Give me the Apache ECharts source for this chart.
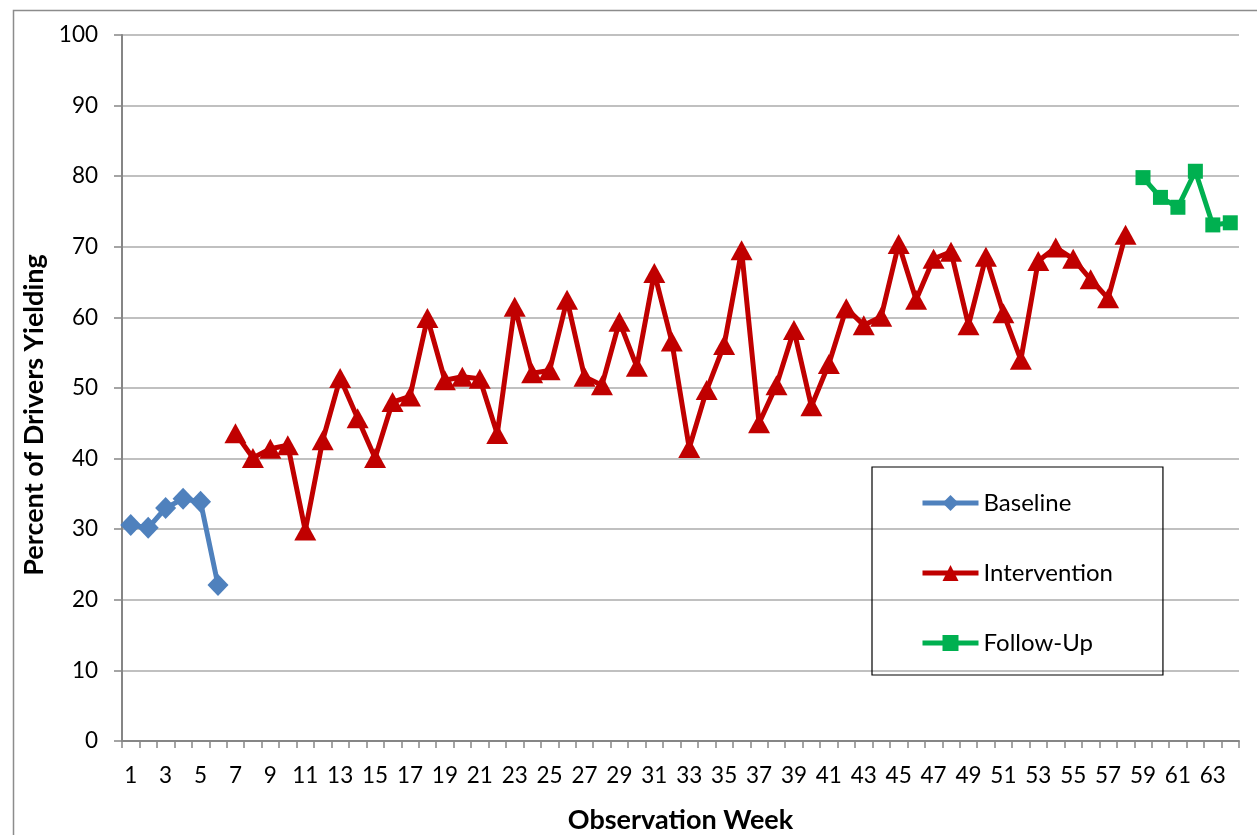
<!DOCTYPE html>
<html>
<head>
<meta charset="utf-8">
<title>Percent of Drivers Yielding</title>
<script src="https://cdn.jsdelivr.net/npm/echarts@6/dist/echarts.min.js"></script>
<style>
    html, body { margin: 0; padding: 0; background: #fff; }
    #main { width: 1257px; height: 835px; }
</style>
</head>
<body>
<div id="main"></div>
<script>
// weeks 1..64
var weeks = [];
for (var w = 1; w <= 64; w++) {
    weeks.push(String(w));
}

// Baseline: weeks 1-6
var baseline = [30.6, 30.2, 33.0, 34.3, 33.9, 22.1];

// Intervention: weeks 7-58
var intervention = [
    43.6, 40.1, 41.4, 41.9, 29.8, 42.6, 51.4, 45.7, 40.1, 48.0,
    48.8, 59.9, 51.1, 51.6, 51.3, 43.5, 61.5, 52.1, 52.5, 62.5,
    51.6, 50.4, 59.4, 53.0, 66.3, 56.6, 41.5, 49.7, 56.1, 69.5,
    45.0, 50.4, 58.2, 47.4, 53.4, 61.3, 58.9, 60.1, 70.4, 62.5,
    68.3, 69.3, 58.9, 68.6, 60.6, 54.0, 68.0, 69.9, 68.3, 65.4,
    62.7, 71.7
];

// Follow-Up: weeks 59-64
var followUp = [79.8, 77.0, 75.6, 80.7, 73.1, 73.4];

var yTicks = { min: 0, max: 100, interval: 10 };

(function() {

    var myChart = echarts.init(document.getElementById('main'));

    // pad a phase onto the full week axis
    function place(values, startWeek) {
        var out = [];
        for (var i = 0; i < weeks.length; i++) {
            var k = i - (startWeek - 1);
            out.push(k >= 0 && k < values.length ? values[k] : '-');
        }
        return out;
    }

    var font = 'Lato';
    var axisGray = '#868686';

    function phase(name, values, startWeek, color, symbol, size) {
        return {
            name: name,
            type: 'line',
            data: place(values, startWeek),
            symbol: symbol,
            symbolSize: size,
            showAllSymbol: true,
            connectNulls: false,
            lineStyle: { color: color, width: 5 },
            itemStyle: { color: color },
            emphasis: { disabled: true }
        };
    }

    var option = {
        backgroundColor: '#fff',
        animation: false,
        textStyle: { fontFamily: font },
        graphic: [{
            type: 'rect',
            left: 11,
            top: 8,
            shape: { width: 1300, height: 900 },
            style: { fill: 'none', stroke: '#8c8c8c', lineWidth: 1.5 },
            silent: true
        }],
        grid: {
            left: 122,
            top: 35,
            right: 18,
            bottom: 94,
            containLabel: false,
            outerBoundsMode: 'none'
        },
        legend: {
            orient: 'vertical',
            left: 872,
            top: 467,
            padding: [24, 50, 20, 48],
            itemGap: 46,
            itemWidth: 56,
            itemHeight: 20,
            borderColor: '#000',
            borderWidth: 1.2,
            lineStyle: { width: 5 },
            textStyle: { fontFamily: font, fontSize: 24, color: '#000' },
            data: ['Baseline', 'Intervention', 'Follow-Up']
        },
        xAxis: {
            type: 'category',
            data: weeks,
            boundaryGap: true,
            name: 'Observation Week',
            nameLocation: 'middle',
            nameGap: 66,
            nameTextStyle: { fontFamily: font, fontSize: 27, fontWeight: 'bold', color: '#000' },
            axisLine: { lineStyle: { color: axisGray, width: 2 } },
            axisTick: { show: true, interval: 0, length: 7, lineStyle: { color: axisGray, width: 1.5 } },
            axisLabel: { interval: 1, margin: 23, fontFamily: font, fontSize: 22.5, color: '#000' },
            splitLine: { show: false }
        },
        yAxis: {
            type: 'value',
            min: yTicks.min,
            max: yTicks.max,
            interval: yTicks.interval,
            name: 'Percent of Drivers Yielding',
            nameLocation: 'middle',
            nameGap: 74,
            nameRotate: 90,
            nameTextStyle: {
                fontFamily: font,
                fontSize: 27,
                fontWeight: 'bold',
                color: '#000',
                // push the title a little below the axis middle, as in the original
                padding: [0, 54, 0, 0]
            },
            axisLine: { show: true, lineStyle: { color: axisGray, width: 2 } },
            axisTick: { show: true, length: 8, lineStyle: { color: axisGray, width: 1.5 } },
            axisLabel: { margin: 24, fontFamily: font, fontSize: 22.5, color: '#000' },
            splitLine: { lineStyle: { color: '#c0c0c0', width: 2 } }
        },
        series: [
            phase('Baseline', baseline, 1, '#4f81bd', 'diamond', [21, 22]),
            phase('Intervention', intervention, 7, '#c00000', 'triangle', [22, 20]),
            phase('Follow-Up', followUp, 59, '#00b050', 'rect', 15)
        ]
    };

    myChart.setOption(option);

})();
</script>
</body>
</html>
